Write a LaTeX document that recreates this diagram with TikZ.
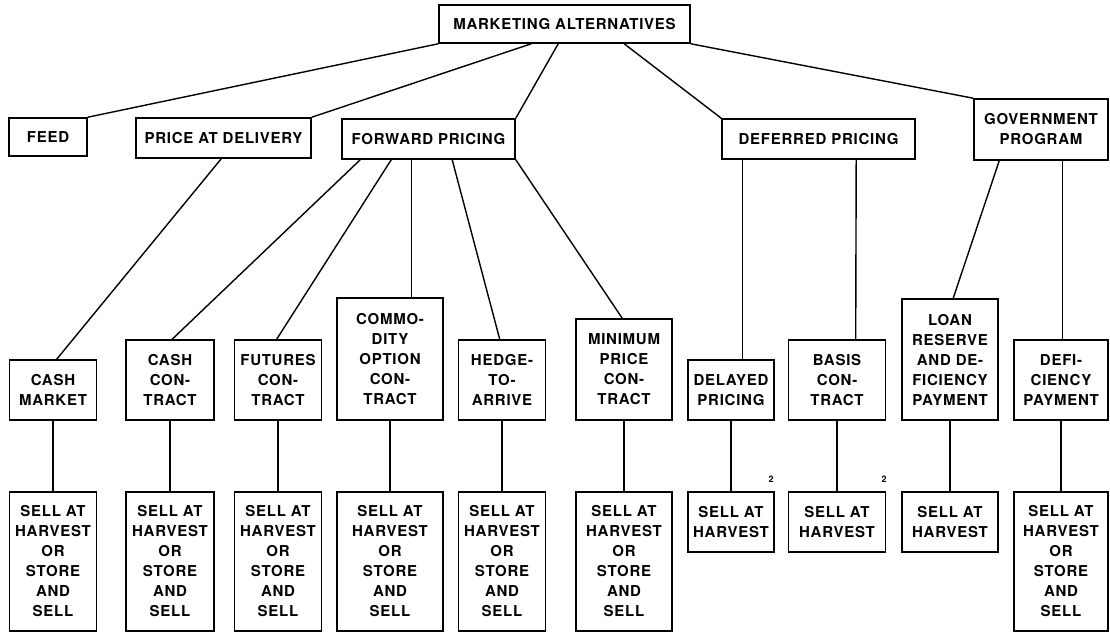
\documentclass[tikz,border=0pt]{standalone}
\usepackage{fontspec}
\newfontfamily\hv{TeX Gyre Heros}[LetterSpace=5]
\begin{document}
\begin{tikzpicture}[x=1pt,y=-1pt,
  box/.style={draw, line width=1.6pt, align=center, inner sep=0pt,
    font=\hv\bfseries\fontsize{15}{20}\selectfont},
  conn/.style={line width=1.4pt},
  note/.style={inner sep=0pt, font=\hv\bfseries\fontsize{9}{10}\selectfont}]
\useasboundingbox (0,0) rectangle (1110,632);
% level 1
\node[box, minimum width=251pt, minimum height=38pt] (ma) at (564.5,24) {MARKETING ALTERNATIVES};
% level 2
\node[box, minimum width=78pt, minimum height=38pt] (feed) at (48,137) {FEED};
\node[box, minimum width=175pt, minimum height=40pt] (pad) at (223.5,138) {PRICE AT DELIVERY};
\node[box, minimum width=173pt, minimum height=40pt] (fp) at (428.5,139) {FORWARD PRICING};
\node[box, minimum width=193pt, minimum height=40pt] (dp) at (818.5,139) {DEFERRED PRICING};
\node[box, minimum width=134pt, minimum height=61pt] (gp) at (1041,129.5) {GOVERNMENT\\PROGRAM};
% level 3
\node[box, minimum width=87pt, minimum height=60pt] (cm) at (53,390) {CASH\\MARKET};
\node[box, minimum width=88pt, minimum height=80pt] (cc) at (170,380) {CASH\\CON-\\TRACT};
\node[box, minimum width=87pt, minimum height=80pt] (fut) at (278,380) {FUTURES\\CON-\\TRACT};
\node[box, minimum width=106pt, minimum height=122pt] (com) at (390,359) {COMMO-\\DITY\\OPTION\\CON-\\TRACT};
\node[box, minimum width=87pt, minimum height=80pt] (hed) at (502,380) {HEDGE-\\TO-\\ARRIVE};
\node[box, minimum width=96pt, minimum height=101pt] (min) at (624,369.5) {MINIMUM\\PRICE\\CON-\\TRACT};
\node[box, minimum width=86pt, minimum height=60pt] (del) at (731,390) {DELAYED\\PRICING};
\node[box, minimum width=97pt, minimum height=80pt] (bas) at (837,380) {BASIS\\CON-\\TRACT};
\node[box, minimum width=96pt, minimum height=121pt] (loan) at (950,359.5) {LOAN\\RESERVE\\AND DE-\\FICIENCY\\PAYMENT};
\node[box, minimum width=94pt, minimum height=80pt] (defi) at (1061,380) {DEFI-\\CIENCY\\PAYMENT};
% level 4
\node[box, minimum width=87pt, minimum height=139pt] (s1) at (53,561.5) {SELL AT\\HARVEST\\OR\\STORE\\AND\\SELL};
\node[box, minimum width=88pt, minimum height=139pt] (s2) at (170,561.5) {SELL AT\\HARVEST\\OR\\STORE\\AND\\SELL};
\node[box, minimum width=87pt, minimum height=139pt] (s3) at (278,561.5) {SELL AT\\HARVEST\\OR\\STORE\\AND\\SELL};
\node[box, minimum width=106pt, minimum height=139pt] (s4) at (390,561.5) {SELL AT\\HARVEST\\OR\\STORE\\AND\\SELL};
\node[box, minimum width=87pt, minimum height=139pt] (s5) at (502,561.5) {SELL AT\\HARVEST\\OR\\STORE\\AND\\SELL};
\node[box, minimum width=96pt, minimum height=139pt] (s6) at (624,561.5) {SELL AT\\HARVEST\\OR\\STORE\\AND\\SELL};
\node[box, minimum width=86pt, minimum height=60pt] (s7) at (731,522) {SELL AT\\HARVEST};
\node[box, minimum width=97pt, minimum height=60pt] (s8) at (837,522) {SELL AT\\HARVEST};
\node[box, minimum width=96pt, minimum height=60pt] (s9) at (950,522) {SELL AT\\HARVEST};
\node[box, minimum width=94pt, minimum height=139pt] (s10) at (1061,561.5) {SELL AT\\HARVEST\\OR\\STORE\\AND\\SELL};
% footnote marks
\node[note] (n1) at (771,479) {2};
\node[note] (n2) at (884,479) {2};
% connectors level 1 -> 2
\draw[conn] (ma.south west) -- (feed.north east);
\draw[conn] ([xshift=93pt]ma.south west) -- (pad.north east);
\draw[conn] ([xshift=120pt]ma.south west) -- (fp.north east);
\draw[conn] ([xshift=186pt]ma.south west) -- (dp.north west);
\draw[conn] (ma.south east) -- (gp.north west);
% level 2 -> 3
\draw[conn] ([xshift=86pt]pad.south west) -- ([xshift=48pt]cm.north west);
\draw[conn] ([xshift=19pt]fp.south west) -- ([xshift=47pt]cc.north west);
\draw[conn] ([xshift=50pt]fp.south west) -- ([xshift=43pt]fut.north west);
\draw[conn] ([xshift=70.5pt]fp.south west) -- ([xshift=75.5pt]com.north west);
\draw[conn] ([xshift=111pt]fp.south west) -- ([xshift=42pt]hed.north west);
\draw[conn] (fp.south east) -- ([xshift=47pt]min.north west);
\draw[conn] ([xshift=21pt]dp.south west) -- ([xshift=55pt]del.north west);
\draw[conn] ([xshift=135pt]dp.south west) -- ([xshift=68pt]bas.north west);
\draw[conn] ([xshift=26pt]gp.south west) -- ([xshift=52pt]loan.north west);
\draw[conn] ([xshift=89pt]gp.south west) -- ([xshift=49pt]defi.north west);
% level 3 -> 4
\foreach \a/\b in {cm/s1, cc/s2, fut/s3, com/s4, hed/s5, min/s6, del/s7, bas/s8, loan/s9, defi/s10}
  \draw[conn] (\a.south) -- (\b.north);
\end{tikzpicture}
\end{document}
